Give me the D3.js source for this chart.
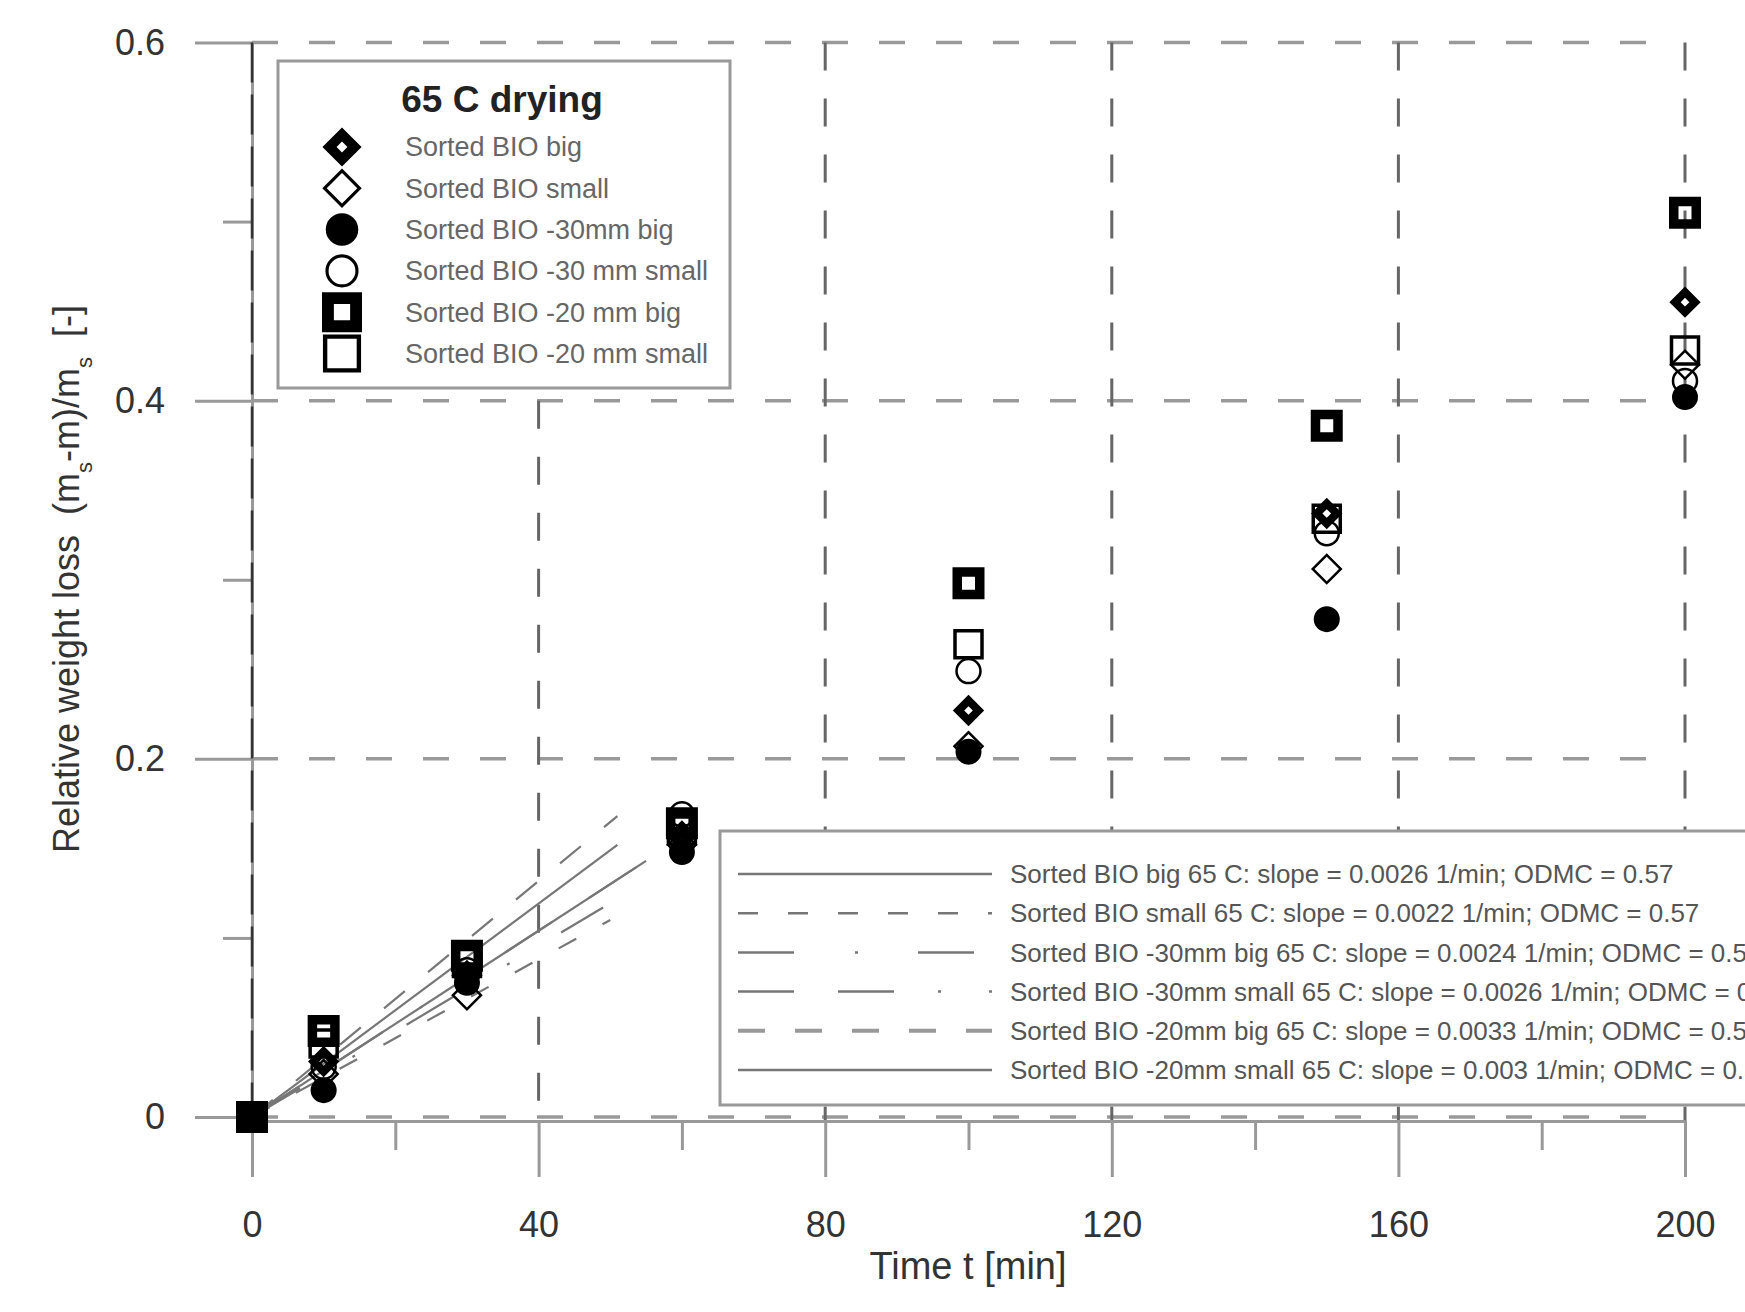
<!DOCTYPE html>
<html>
<head>
<meta charset="utf-8">
<script src="https://cdn.jsdelivr.net/npm/d3@7"></script>
<style>
  body { margin: 0; background: #fff; }
  text { font-family: "Liberation Sans", Arial, sans-serif; }
</style>
</head>
<body>
<div id="chart"></div>
<script>
/* relative weight loss vs drying time, 65 C */

// data
const times = [0, 10, 30, 60, 100, 150, 200];
const bioBig = [0, 0.031, 0.079, 0.157, 0.227, 0.337, 0.455];
const bioSmall = [0, 0.024, 0.068, 0.152, 0.207, 0.306, 0.420];
const mm30Big = [0, 0.015, 0.075, 0.148, 0.204, 0.278, 0.402];
const mm30Small = [0, 0.028, 0.082, 0.169, 0.249, 0.326, 0.411];
const mm20Big = [0, 0.048, 0.090, 0.164, 0.298, 0.386, 0.505];
const mm20Small = [0, 0.041, 0.086, 0.160, 0.264, 0.334, 0.428];

const seriesNames = ["Sorted BIO big", "Sorted BIO small", "Sorted BIO -30mm big",
  "Sorted BIO -30 mm small", "Sorted BIO -20 mm big", "Sorted BIO -20 mm small"];

// fitted lines: end time and end value of each line (start at origin)
const fitEndTime = [55, 50, 49, 55, 51, 51];
const fitEndValue = [0.143, 0.110, 0.117, 0.143, 0.168, 0.152];
const fitLabels = [
  "Sorted BIO big 65 C: slope = 0.0026 1/min; ODMC = 0.57",
  "Sorted BIO small 65 C: slope = 0.0022 1/min; ODMC = 0.57",
  "Sorted BIO -30mm big 65 C: slope = 0.0024 1/min; ODMC = 0.57",
  "Sorted BIO -30mm small 65 C: slope = 0.0026 1/min; ODMC = 0.57",
  "Sorted BIO -20mm big 65 C: slope = 0.0033 1/min; ODMC = 0.57",
  "Sorted BIO -20mm small 65 C: slope = 0.003 1/min; ODMC = 0.57"
];

const xTicks = [0, 40, 80, 120, 160, 200];
const xMinor = [20, 60, 100, 140, 180];
const yTicks = [0, 0.2, 0.4, 0.6];
const yMinor = [0.1, 0.3, 0.5];

let width = 1745,
    height = 1312;

const svg = d3.select("#chart")
  .append("svg")
  .attr("width", width)
  .attr("height", height);

let x = d3.scaleLinear().domain([0, 200]).range([252, 1685]);
let y = d3.scaleLinear().domain([0, 0.6]).range([1117, 42.5]);

let axisY = y(0) + 4; // x axis sits a little under the zero grid line

// marker styles per series
const markers = [
  { type: "diamond", size: 200, stroke: 8, fill: "none" },
  { type: "diamond", size: 392, stroke: 2.5, fill: "none" },
  { type: "circle", size: 531, stroke: 0, fill: "#000" },
  { type: "circle", size: 452, stroke: 2.5, fill: "none" },
  { type: "square", size: 506, stroke: 9.5, fill: "none" },
  { type: "square", size: 729, stroke: 3.5, fill: "none" }
];
const lineDash = ["none", "20,30", "56,61,3,60", "56,44,56,44,3,48,3,48", "27,30", "none"];

function symbolPath(m, k) {
  let t = m.type === "circle" ? d3.symbolCircle : d3.symbolSquare;
  return d3.symbol().type(t).size(m.size * k * k)();
}

function addMarker(g, m, cx, cy, k) {
  g.append("path")
    .attr("d", symbolPath(m, k))
    .attr("transform", `translate(${cx},${cy})` + (m.type === "diamond" ? " rotate(45)" : ""))
    .attr("fill", m.fill)
    .attr("stroke", "#000")
    .attr("stroke-width", m.stroke * k);
}

// horizontal grid
let hgrid = svg.append("g");
for (let v of yTicks) {
  hgrid.append("line")
    .attr("x1", x(0)).attr("x2", 1662)
    .attr("y1", y(v)).attr("y2", y(v))
    .attr("stroke", "#9a9a9a")
    .attr("stroke-width", 3.5)
    .attr("stroke-dasharray", "26,31");
}

// vertical grid (the 40 line only shows under the legend)
let vgrid = svg.append("g");
for (let t of xTicks.slice(1)) {
  vgrid.append("line")
    .attr("x1", x(t)).attr("x2", x(t))
    .attr("y1", t === 40 ? y(0.4) : y(0.6)).attr("y2", axisY)
    .attr("stroke", "#666")
    .attr("stroke-width", 3)
    .attr("stroke-dasharray", "28,28");
}

// x axis with labels
svg.append("g")
  .attr("class", "axis")
  .attr("transform", `translate(0,${axisY})`)
  .call(d3.axisBottom(x).tickValues(xTicks).tickSize(56).tickPadding(34).tickSizeOuter(0));

svg.append("g")
  .attr("class", "axis minor")
  .attr("transform", `translate(0,${axisY})`)
  .call(d3.axisBottom(x).tickValues(xMinor).tickSize(29).tickFormat("").tickSizeOuter(0))
  .call(g => g.select(".domain").remove());

// y axis with labels
svg.append("g")
  .attr("class", "axis")
  .attr("transform", `translate(${x(0)},0)`)
  .call(d3.axisLeft(y).tickValues(yTicks).tickSize(57).tickPadding(30).tickSizeOuter(0)
    .tickFormat(d => d === 0 ? "0" : d3.format(".1f")(d)));

svg.append("g")
  .attr("class", "axis minor")
  .attr("transform", `translate(${x(0)},0)`)
  .call(d3.axisLeft(y).tickValues(yMinor).tickSize(29).tickFormat("").tickSizeOuter(0))
  .call(g => g.select(".domain").remove());

svg.selectAll(".axis path, .axis line")
  .attr("stroke", "#999")
  .attr("stroke-width", 3);

svg.selectAll(".axis text")
  .attr("font-size", 36)
  .attr("fill", "#333")
  .attr("font-family", "Liberation Sans, Arial, sans-serif");

// dark dashed zero line on the y axis
svg.append("line")
  .attr("x1", x(0)).attr("x2", x(0))
  .attr("y1", y(0.6)).attr("y2", y(0))
  .attr("stroke", "#333")
  .attr("stroke-width", 2.5)
  .attr("stroke-dasharray", "40,12");

// axis titles
svg.append("text")
  .attr("x", 968)
  .attr("y", 1279)
  .attr("text-anchor", "middle")
  .attr("font-size", 38)
  .attr("fill", "#333")
  .text("Time t [min]");

let yTitle = svg.append("text")
  .attr("transform", "translate(79,579) rotate(-90)")
  .attr("text-anchor", "middle")
  .attr("font-size", 36)
  .attr("fill", "#333")
  .style("white-space", "pre");
yTitle.append("tspan").text("Relative weight loss  (m");
yTitle.append("tspan").attr("font-size", 22).attr("baseline-shift", "sub").text("s");
yTitle.append("tspan").text("-m)/m");
yTitle.append("tspan").attr("font-size", 22).attr("baseline-shift", "sub").text("s");
yTitle.append("tspan").text("  [-]");

// upper legend: markers
let leg = svg.append("g");
leg.append("rect")
  .attr("x", 278).attr("y", 61)
  .attr("width", 452).attr("height", 327)
  .attr("fill", "#fff")
  .attr("stroke", "#999")
  .attr("stroke-width", 3);
leg.append("text")
  .attr("x", 502).attr("y", 112)
  .attr("text-anchor", "middle")
  .attr("font-size", 37)
  .attr("font-weight", "bold")
  .attr("fill", "#222")
  .text("65 C drying");
seriesNames.forEach((name, i) => {
  let ly = 147 + i * 41.3;
  addMarker(leg, markers[i], 342, ly, 1.25);
  leg.append("text")
    .attr("x", 405).attr("y", ly)
    .attr("dy", "0.35em")
    .attr("font-size", 27)
    .attr("fill", "#666")
    .text(name);
});

// lower legend: fitted lines
let leg2 = svg.append("g");
leg2.append("rect")
  .attr("x", 720).attr("y", 831)
  .attr("width", 1060).attr("height", 274)
  .attr("fill", "#fff")
  .attr("stroke", "#999")
  .attr("stroke-width", 3);
fitLabels.forEach((label, i) => {
  let ly = 874 + i * 39.2;
  leg2.append("line")
    .attr("x1", 738).attr("x2", 992)
    .attr("y1", ly).attr("y2", ly)
    .attr("stroke", i === 4 ? "#999" : "#777")
    .attr("stroke-width", i === 4 ? 4 : 2.5)
    .attr("stroke-dasharray", lineDash[i]);
  leg2.append("text")
    .attr("x", 1010).attr("y", ly)
    .attr("dy", "0.35em")
    .attr("font-size", 26)
    .attr("fill", "#555")
    .text(label);
});

// fitted lines in the plot
let line = d3.line()
  .x(d => x(d[0]))
  .y(d => y(d[1]));

fitEndTime.forEach((t, i) => {
  svg.append("path")
    .datum([[0, 0], [t, fitEndValue[i]]])
    .attr("fill", "none")
    .attr("stroke", "#777")
    .attr("stroke-width", 2.2)
    .attr("stroke-dasharray", lineDash[i])
    .attr("d", line);
});

// data points
const series = [bioBig, bioSmall, mm30Big, mm30Small, mm20Big, mm20Small];
let pts = svg.append("g");
series.forEach((vals, i) => {
  vals.forEach((v, j) => {
    addMarker(pts, markers[i], x(times[j]), y(v), 1);
  });
});
</script>
</body>
</html>
